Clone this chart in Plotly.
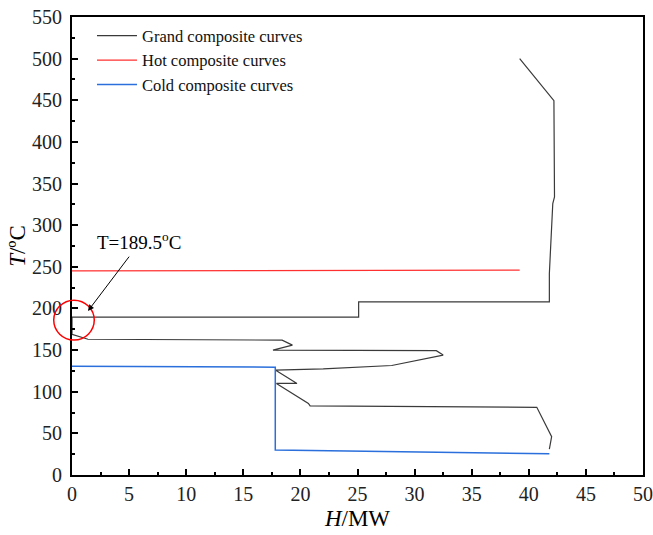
import plotly.graph_objects as go

# Grand composite curve (H in MW, T in degC)
gcc_H = [39.2, 42.2, 42.25, 42.1, 41.8, 41.8, 25.1, 25.1, 0.0, 0.0, 1.4, 18.4, 19.3, 17.6,
         31.9, 32.5, 28.0, 22.0, 17.8, 19.7, 17.9, 20.7, 20.85, 40.7, 42.0, 41.8]
gcc_T = [500, 449.5, 334, 326, 242, 208, 208, 189.5, 189.5, 169, 163, 162, 156, 150,
         149.3, 144, 131.5, 127.5, 126, 110, 110, 86, 83, 81.3, 46, 31]

# Hot composite curve
hot_H = [0.0, 39.2]
hot_T = [245.2, 246.0]

# Cold composite curve
cold_H = [0.0, 17.8, 17.8, 41.8]
cold_T = [130.5, 129.5, 30.0, 25.5]

x_range = [0, 50]
y_range = [0, 550]

FONT = "Liberation Serif"

fig = go.Figure()
fig.add_trace(go.Scatter(x=gcc_H, y=gcc_T, mode="lines", name="Grand composite curves",
                         line=dict(color="#3a3a3a", width=1.2)))
fig.add_trace(go.Scatter(x=hot_H, y=hot_T, mode="lines", name="Hot composite curves",
                         line=dict(color="#ff3030", width=1.2)))
fig.add_trace(go.Scatter(x=cold_H, y=cold_T, mode="lines", name="Cold composite curves",
                         line=dict(color="#2a6fdb", width=1.5)))

def px(h):
    return (h - x_range[0]) / (x_range[1] - x_range[0])

def py(t):
    return (t - y_range[0]) / (y_range[1] - y_range[0])

# red circle around pinch point (paper coordinates so it is not clipped)
fig.add_shape(type="circle", xref="paper", yref="paper",
              x0=px(-1.6), x1=px(1.95), y0=py(162), y1=py(210),
              line=dict(color="#ff0000", width=1.5))

# arrow + label
fig.add_annotation(x=1.4, y=197, ax=5.1, ay=264, xref="x", yref="y", axref="x", ayref="y",
                   text="", showarrow=True, arrowhead=2, arrowsize=1.2, arrowwidth=1,
                   arrowcolor="black", standoff=0, startstandoff=0)
fig.add_annotation(x=2.0, y=281, xref="x", yref="y", xanchor="left", yanchor="middle",
                   text="T=189.5<sup>o</sup>C", showarrow=False,
                   font=dict(family=FONT, size=19, color="black"))

axis_common = dict(showline=True, linecolor="black", linewidth=2, mirror=True,
                   ticks="inside", ticklen=6, tickwidth=2, tickcolor="black",
                   showgrid=False, zeroline=False, automargin=False,
                   tickfont=dict(family=FONT, size=20, color="#222"))

fig.update_xaxes(range=x_range, dtick=5, tick0=0,
                 minor=dict(dtick=2.5, ticks="inside", ticklen=3, tickwidth=1.5, tickcolor="black"),
                 title=dict(text="<i>H</i>/MW", font=dict(family=FONT, size=23, color="black"), standoff=6),
                 **axis_common)
fig.update_yaxes(range=y_range, dtick=50, tick0=0, ticklabelstandoff=4,
                 minor=dict(dtick=25, ticks="inside", ticklen=3, tickwidth=1.5, tickcolor="black"),
                 title=dict(text="<i>T</i>/ºC", font=dict(family=FONT, size=23, color="black"), standoff=0),
                 **axis_common)

fig.update_layout(
    width=653, height=535,
    margin=dict(l=72, r=10, t=17, b=60),
    plot_bgcolor="white", paper_bgcolor="white",
    font=dict(family=FONT, color="black"),
    legend=dict(x=0.035, y=0.997, xanchor="left", yanchor="top",
                bgcolor="rgba(0,0,0,0)", font=dict(family=FONT, size=16.5, color="#111"),
                tracegroupgap=0, itemwidth=40),
    showlegend=True,
)

fig.write_html("out.html")
